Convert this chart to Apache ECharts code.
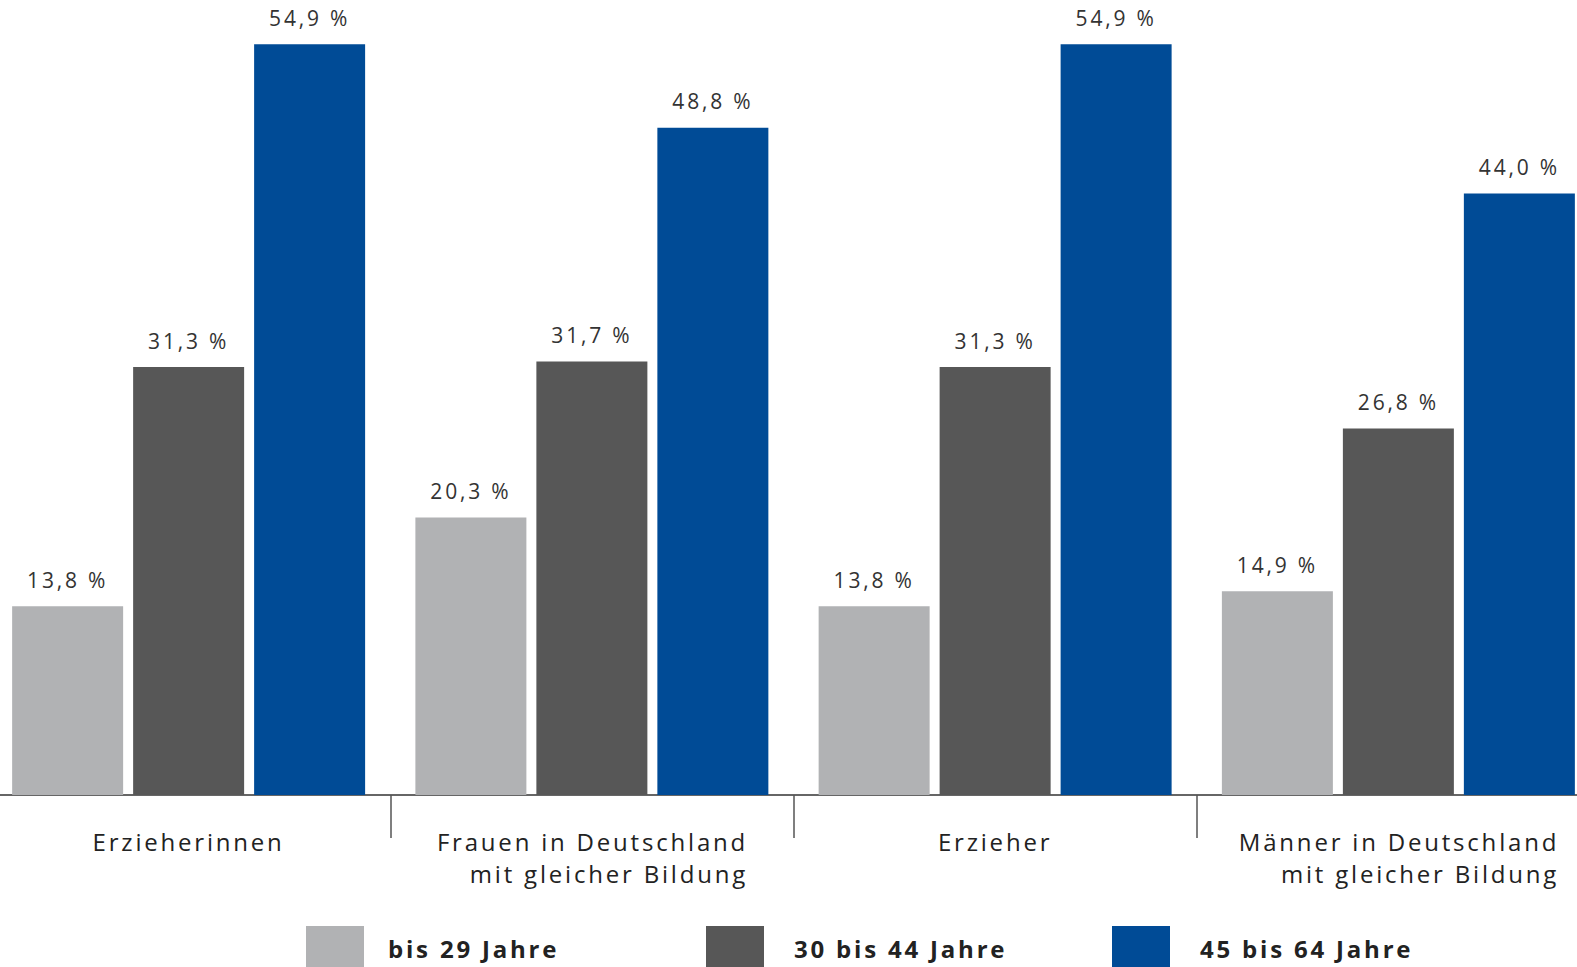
<!DOCTYPE html>
<html>
<head>
<meta charset="utf-8">
<script src="https://cdn.jsdelivr.net/npm/echarts@6/dist/echarts.min.js"></script>
<style>
html,body{margin:0;padding:0;background:#fff;}
#chart{width:1577px;height:967px;}
#chart text{letter-spacing:2.8px;}
</style>
</head>
<body>
<div id="chart"></div>
<script>
const categories = ['Erzieherinnen', 'Frauen in Deutschland\nmit gleicher Bildung', 'Erzieher', 'Männer in Deutschland\nmit gleicher Bildung'];
const seriesNames = ['bis 29 Jahre', '30 bis 44 Jahre', '45 bis 64 Jahre'];
const bis29 = [13.8, 20.3, 13.8, 14.9];
const bis44 = [31.3, 31.7, 31.3, 26.8];
const bis64 = [54.9, 48.8, 54.9, 44.0];
const colors = ['#b1b2b4', '#575757', '#004b96'];

const FONT = '"Open Sans", sans-serif';
const chart = echarts.init(document.getElementById('chart'), null, { renderer: 'svg' });
const fmt = p => p.value.toFixed(1).replace('.', ',') + ' %';
const mk = (name, data, color) => ({
  name, type: 'bar', data, barWidth: 111, barGap: '9%',
  itemStyle: { color },
  label: { show: true, position: 'top', distance: 16, formatter: fmt,
    fontFamily: FONT, fontSize: 21, color: '#333' }
});
const catFmt = v => v.indexOf('\n') < 0 ? v : v.split('\n').map(s => '{r|' + s + '}').join('\n');
chart.setOption({
  animation: false,
  backgroundColor: '#fff',
  grid: { left: -13, right: -23, top: 43, bottom: 172, containLabel: false, outerBoundsMode: 'none' },
  legend: seriesNames.map((n, i) => ({
    data: [n], left: [306, 706, 1112][i], top: 926, padding: 0,
    itemWidth: 58, itemHeight: 44, itemGap: 0,
    icon: 'rect',
    textStyle: { fontFamily: FONT, fontSize: 24, fontWeight: 'bold', color: '#222', padding: [0, 0, 0, [19, 25, 25][i]] }
  })),
  xAxis: {
    type: 'category', data: categories,
    axisLine: { lineStyle: { color: '#333', width: 1.5 } },
    axisTick: { show: true, length: 43, lineStyle: { color: '#555', width: 1.5 } },
    axisLabel: {
      fontFamily: FONT, fontSize: 24, color: '#222', margin: 30, lineHeight: 32,
      formatter: catFmt,
      rich: { r: { fontFamily: FONT, fontSize: 24, color: '#222', lineHeight: 32, align: 'right', padding: [0, 0, 0, 60] } }
    }
  },
  yAxis: { type: 'value', min: 0, max: 55, show: false, splitLine: { show: false } },
  series: [mk(seriesNames[0], bis29, colors[0]), mk(seriesNames[1], bis44, colors[1]), mk(seriesNames[2], bis64, colors[2])]
});
</script>
</body>
</html>
